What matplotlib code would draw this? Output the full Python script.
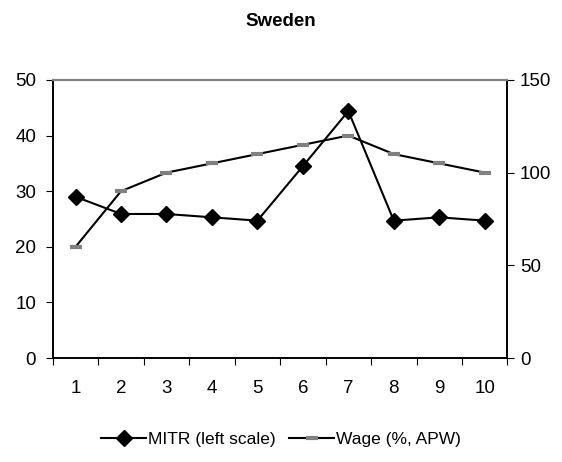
import numpy as np
import matplotlib
matplotlib.use("Agg")
import matplotlib.pyplot as plt

plt.rcParams['font.family'] = ['Liberation Sans', 'DejaVu Sans']

periods = [1, 2, 3, 4, 5, 6, 7, 8, 9, 10]
mitr = [29.0, 25.9, 25.9, 25.3, 24.7, 34.5, 44.4, 24.7, 25.3, 24.7]
wage = [60, 90, 100, 105, 110, 115, 120, 110, 105, 100]

fig = plt.figure(figsize=(5.62, 4.62), dpi=100)
ax = fig.add_axes([0.094, 0.225, 0.809, 0.602])
ax2 = ax.twinx()

x = np.arange(len(periods))
l1, = ax.plot(x, mitr, color='black', linewidth=1.5, marker='D', markersize=8,
              markerfacecolor='black', markeredgecolor='black', label='MITR (left scale)', zorder=3)
l2, = ax2.plot(x, wage, color='black', linewidth=1.5, marker='_', markersize=9,
               markeredgewidth=3, markeredgecolor='#808080', label='Wage (%, APW)')

ax.set_xlim(-0.5, len(periods) - 0.5)
ax.set_ylim(0, 50)
ax2.set_ylim(0, 150)
ax.set_yticks([0, 10, 20, 30, 40, 50])
ax2.set_yticks([0, 50, 100, 150])

# ticks on category boundaries, labels centred on categories
ax.set_xticks(np.arange(-0.5, len(periods)))
ax.set_xticklabels([])
ax.set_xticks(x, minor=True)
ax.set_xticklabels([str(p) for p in periods], minor=True)
ax.tick_params(axis='x', which='minor', length=0, labelsize=13.5, pad=16)
ax.tick_params(axis='x', which='major', length=5, direction='out')
ax.tick_params(axis='y', length=5, labelsize=13.5, pad=7)
ax2.tick_params(axis='y', length=5, labelsize=13.5, pad=4)

for a in (ax, ax2):
    a.spines['top'].set_color('#808080')
    a.spines['top'].set_linewidth(1.5)
    a.spines['left'].set_linewidth(1.2)
    a.spines['right'].set_linewidth(1.2)
    a.spines['bottom'].set_linewidth(1.2)

fig.text(0.5, 0.953, 'Sweden', ha='center', va='center', fontsize=13.5, fontweight='bold')

fig.legend(handles=[l1, l2], loc='center', bbox_to_anchor=(0.5, 0.048), ncol=2,
           frameon=False, fontsize=12.5, handlelength=2.6, handletextpad=0.1,
           columnspacing=0.8)

fig.savefig('out.png', dpi=100)
